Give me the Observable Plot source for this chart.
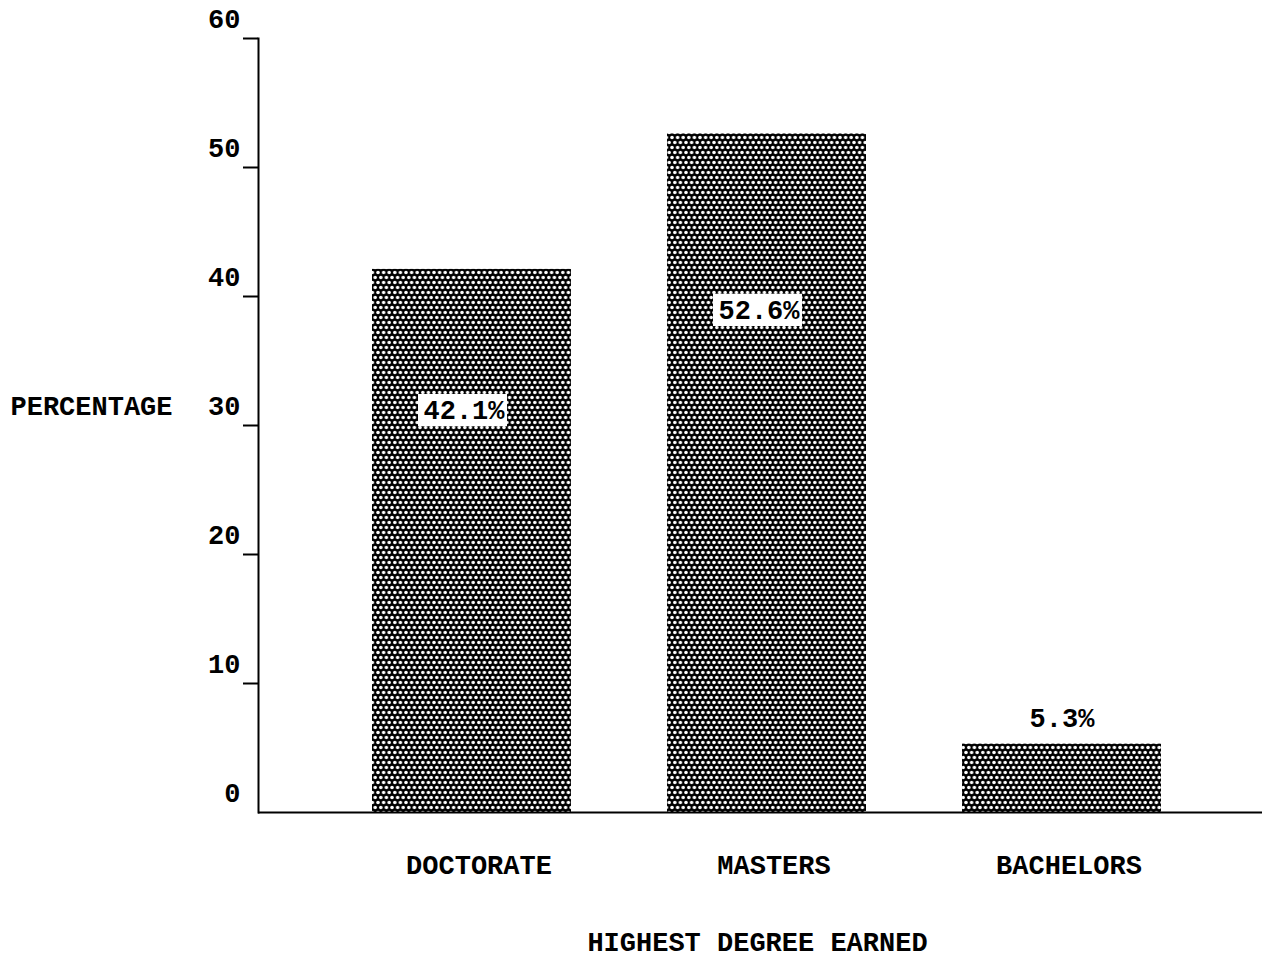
<!DOCTYPE html>
<html>
<head>
<meta charset="utf-8">
<script src="https://cdn.jsdelivr.net/npm/d3@7"></script>
<script src="https://cdn.jsdelivr.net/npm/@observablehq/plot@0.6"></script>
<style>
  html, body { margin: 0; padding: 0; background: #fff; }
</style>
</head>
<body>
<div id="chart"></div>
<script>
const degrees = ["DOCTORATE", "MASTERS", "BACHELORS"];
const percents = [42.1, 52.6, 5.3];
const valueLabels = ["42.1%", "52.6%", "5.3%"];
const yTicks = [0, 10, 20, 30, 40, 50, 60];
const yLabel = "PERCENTAGE";
const xLabel = "HIGHEST DEGREE EARNED";

const rows = degrees.map((d, i) => {
  const v = percents[i];
  const inside = v > 20;
  return {degree: d, value: v, label: valueLabels[i], inside, pos: inside ? v * 0.74 : v + 2.0};
});

const font = "Liberation Mono, Courier New, monospace";

const svg = Plot.plot({
  width: 1278,
  height: 959,
  marginLeft: 258,
  marginRight: 16,
  marginTop: 38,
  marginBottom: 147,
  style: {fontFamily: font, fontSize: "27px", fontWeight: "bold", color: "#000", background: "#fff"},
  x: {domain: degrees, paddingInner: 0.325, paddingOuter: 0.364, align: 0.53, label: null},
  y: {domain: [0, 60], label: null},
  marks: [
    Plot.barY(rows, {x: "degree", y: "value", fill: "url(#dots)"}),
    Plot.barY(rows.filter(d => d.inside), {x: "degree", y1: d => d.pos - 1.25, y2: d => d.pos + 1.25, fill: "white", insetLeft: 46, insetRight: 64}),
    Plot.text(rows.filter(d => d.inside), {x: "degree", y: "pos", text: "label", dx: -8, fill: "black", lineAnchor: "middle", fontSize: 27}),
    Plot.text(rows.filter(d => !d.inside), {x: "degree", y: "pos", text: "label", fill: "black", lineAnchor: "middle", fontSize: 27}),
    Plot.frame({anchor: "left", strokeWidth: 2}),
    Plot.ruleY([0], {strokeWidth: 2}),
    Plot.axisY({ticks: yTicks.filter(t => t > 0), tickSize: 15, tickFormat: () => "", strokeWidth: 2}),
    Plot.axisY({ticks: yTicks, tickSize: 0, tickPadding: 18, dy: -19, fontSize: 27}),
    Plot.axisX({tickSize: 0, tickPadding: 42, dx: 7, fontSize: 27, label: null}),
    Plot.text([yLabel], {frameAnchor: "left", dx: -248, dy: -19, textAnchor: "start", lineAnchor: "middle", fontSize: 27}),
    Plot.text([xLabel], {frameAnchor: "bottom", dx: -3, dy: 130, textAnchor: "middle", lineAnchor: "middle", fontSize: 27})
  ]
});

const ns = "http://www.w3.org/2000/svg";
const defs = document.createElementNS(ns, "defs");
const pat = document.createElementNS(ns, "pattern");
pat.setAttribute("id", "dots");
pat.setAttribute("patternUnits", "userSpaceOnUse");
pat.setAttribute("width", "5.6");
pat.setAttribute("height", "10");
const bg = document.createElementNS(ns, "rect");
bg.setAttribute("width", "5.6");
bg.setAttribute("height", "10");
bg.setAttribute("fill", "black");
pat.appendChild(bg);
[[2.8, 2.5], [0, 7.5], [5.6, 7.5]].forEach(([cx, cy]) => {
  const c = document.createElementNS(ns, "circle");
  c.setAttribute("cx", cx);
  c.setAttribute("cy", cy);
  c.setAttribute("r", "1.75");
  c.setAttribute("fill", "white");
  pat.appendChild(c);
});
defs.appendChild(pat);
svg.insertBefore(defs, svg.firstChild);

document.getElementById("chart").appendChild(svg);
</script>
</body>
</html>
